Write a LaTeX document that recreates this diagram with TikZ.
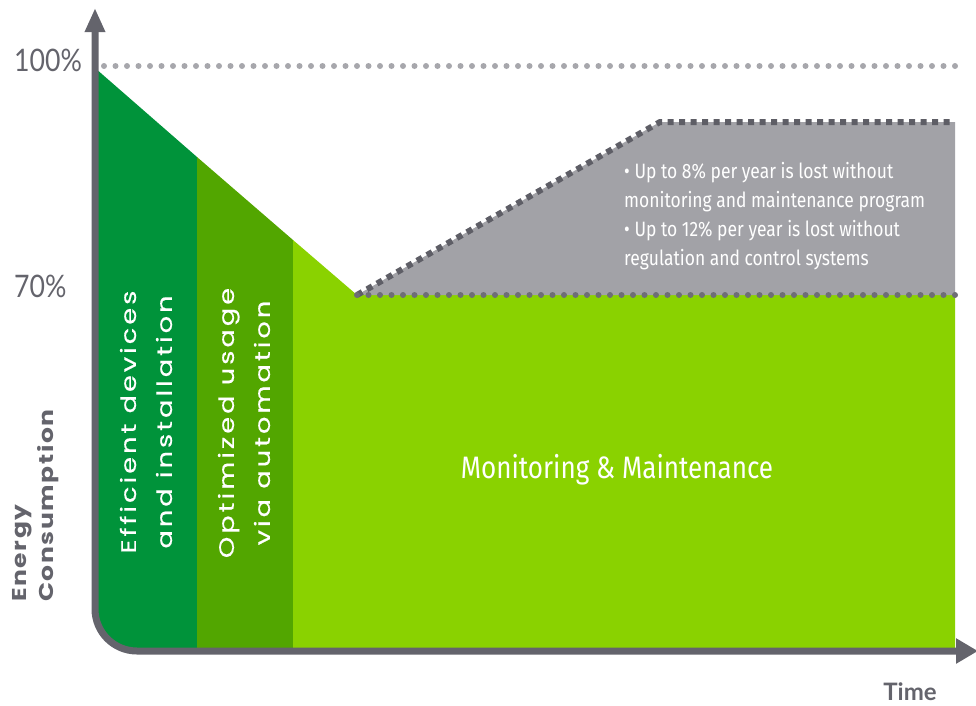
\documentclass[tikz,border=0pt]{standalone}
\usepackage{fontspec}
\setmainfont{Lato}
\newfontfamily\condfont[FakeStretch=0.84]{Fira Sans}
\newfontfamily\widefont[FakeStretch=1.3, LetterSpace=14, FakeBold=0.4]{Poppins}
\newfontfamily\widebold[FakeStretch=1.25, LetterSpace=8]{Poppins}
\newfontfamily\pctfont[FakeStretch=0.86]{Lato}
\usetikzlibrary{arrows.meta}

\definecolor{dkgreen}{HTML}{00933A}
\definecolor{midgreen}{HTML}{52A600}
\definecolor{lightgreen}{HTML}{8AD200}
\definecolor{lossgray}{HTML}{A2A2A7}
\definecolor{axisgray}{HTML}{64646C}
\definecolor{dotgray}{HTML}{A7A7AC}
\definecolor{bordergray}{HTML}{5E5E66}

\tikzset{
	axisline/.style={line width=7pt, draw=axisgray, rounded corners=42pt,
		{Triangle[length=24pt,width=19pt]}-{Triangle[length=22pt,width=24pt]}},
	pctlabel/.style={text=axisgray, anchor=west, inner sep=0, font=\pctfont\fontsize{31}{31}\selectfont},
	bandlabel/.style={text=white, rotate=90, align=center, inner sep=0, font=\widefont\fontsize{21}{36}\selectfont},
	roundDots/.style={line width=6pt, line cap=round, dash pattern=on 0pt off 11.5pt},
	squareDots/.style={line width=6pt, line cap=butt, dash pattern=on 6pt off 5.5pt, draw=bordergray}
}

\begin{document}
\begin{tikzpicture}[x=1pt,y=-1pt]
\useasboundingbox (0,0) rectangle (976,705);

% axis corners and tips
\coordinate (ytip) at (95,8);
\coordinate (xtip) at (978,651);
\coordinate (top) at (95,68);
\coordinate (dip) at (357,295);
\coordinate (peak) at (660,122);
\coordinate (endlow) at (955,295);
\coordinate (endhigh) at (955,122);

% 100% reference line
\draw[roundDots, draw=dotgray] (104,66) -- (958,66);

% the three green bands
\fill[dkgreen] (top) -- (197,157) -- (197,648) -- (137,648) arc[start angle=90, end angle=180, radius=42] -- cycle;
\fill[midgreen] (197,157) -- (293,240) -- (293,648) -- (197,648) -- cycle;
\fill[lightgreen] (293,240) -- (dip) -- (endlow) -- (955,648) -- (293,648) -- cycle;

% losses without maintenance
\fill[lossgray] (dip) -- (peak) -- (endhigh) -- (endlow) -- cycle;
\draw[squareDots] (dip) -- (peak) -- (endhigh);
\draw[roundDots, draw=bordergray!90] (dip) -- (endlow);

% axes
\draw[axisline] (ytip) |- (xtip);

% labels
\node[pctlabel] (p100) at (14,60) {100\%};
\node[pctlabel] (p70) at (14,286) {70\%};
\node[rotate=90, anchor=west, align=left, inner sep=0, text=axisgray,
	font=\widebold\fontsize{20}{27}\bfseries] (ylabel) at (36,602) {Energy\\Consumption};
\node[text=axisgray, font=\fontsize{24}{24}\bfseries] (xlabel) at (910,692) {Time};

\node[bandlabel] (devices) at (146,422) {Efficient devices\\and installation};
\node[bandlabel] (usage) at (244,423) {Optimized usage\\via automation};
\node[text=white, font=\condfont\fontsize{31}{31}\selectfont] (monitor) at (617,470) {Monitoring \& Maintenance};
\node[text=white, anchor=west, align=left, inner sep=0, font=\condfont\fontsize{20.8}{29}\selectfont] (losses) at (624,216)
	{• Up to 8\% per year is lost without\\monitoring and maintenance program\\• Up to 12\% per year is lost without\\regulation and control systems};

\end{tikzpicture}
\end{document}
